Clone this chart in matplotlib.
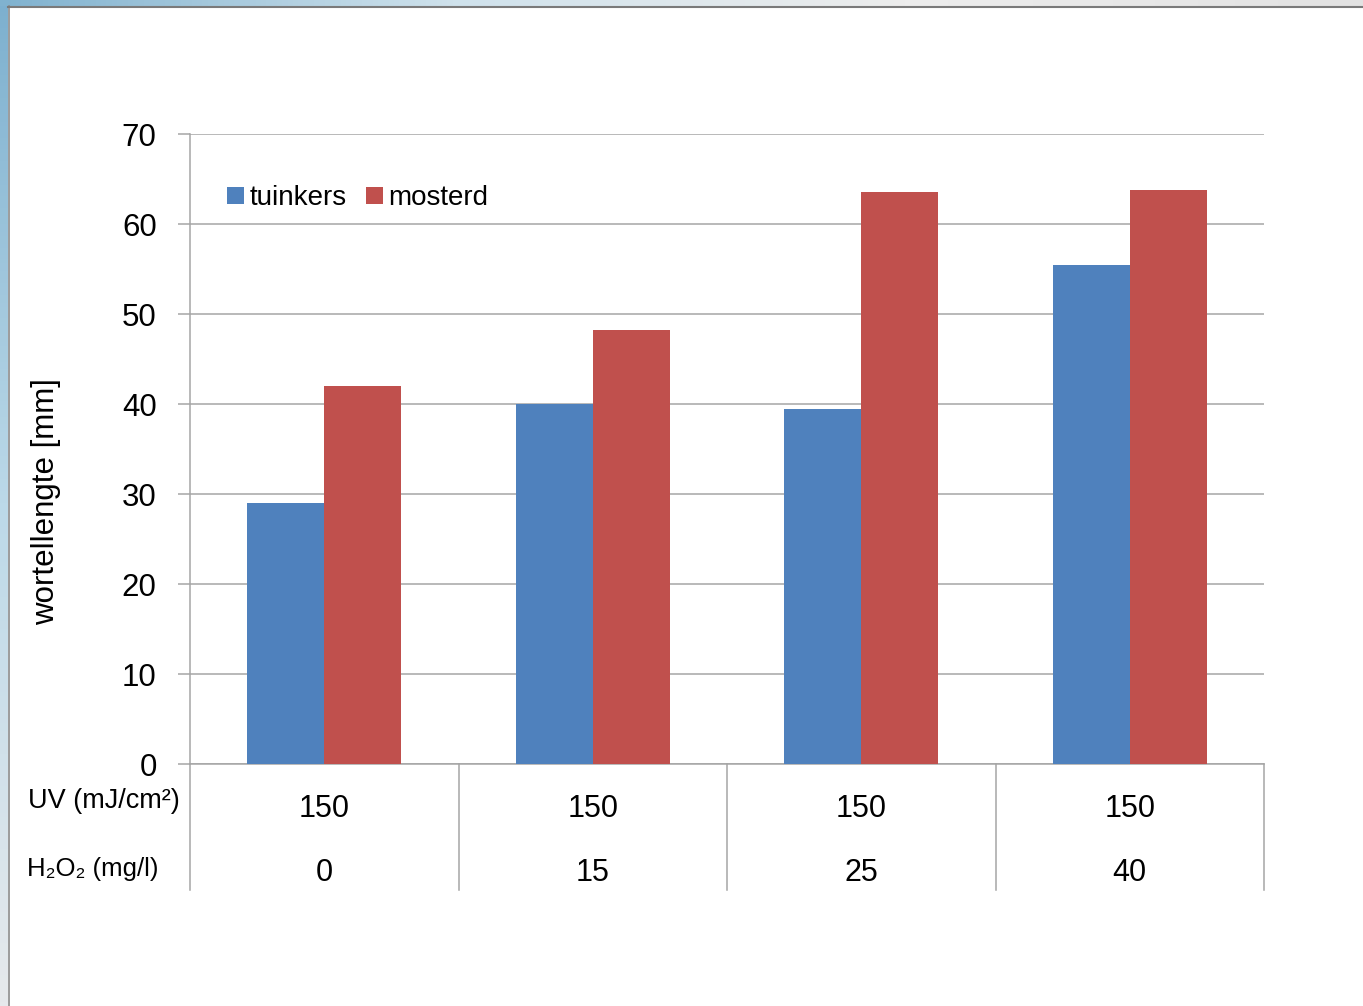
import numpy as np
import matplotlib
matplotlib.use("Agg")
import matplotlib.pyplot as plt
from matplotlib.colors import LinearSegmentedColormap

plt.rcParams['font.family'] = ['Liberation Sans', 'DejaVu Sans']

# --- data ---
uv_dose = ["150", "150", "150", "150"]
h2o2_dose = ["0", "15", "25", "40"]
tuinkers = [29.0, 40.0, 39.5, 55.5]
mosterd = [42.0, 48.2, 63.6, 63.8]
y_ticks = [0, 10, 20, 30, 40, 50, 60, 70]

blue = "#4F81BD"
red = "#C0504D"
grid_grey = "#a5a5a5"

W, H = 1363, 1006
fig = plt.figure(figsize=(W / 100, H / 100), dpi=100)
fig.patch.set_facecolor("white")

# window frame: blue gradient strips on the left and top edge
left_cm = LinearSegmentedColormap.from_list("lft", ["#7db0cf", "#bcd9e8", "#e6e9ec"])
top_cm = LinearSegmentedColormap.from_list("top", ["#80b2cf", "#cfe2ec", "#ededed", "#e2e2e2"])
ax_l = fig.add_axes([0, 0, 8 / W, 1])
ax_l.imshow(np.linspace(0, 1, 256).reshape(-1, 1), cmap=left_cm, aspect="auto")
ax_l.axis("off")
ax_t = fig.add_axes([0, 1 - 6 / H, 1, 6 / H])
ax_t.imshow(np.linspace(0, 1, 256).reshape(1, -1), cmap=top_cm, aspect="auto")
ax_t.axis("off")
fig.add_artist(plt.Line2D([8.5 / W, 8.5 / W], [0, 1 - 6 / H], color="#8a8a8a", lw=1.2))
fig.add_artist(plt.Line2D([8 / W, 1], [1 - 6.5 / H, 1 - 6.5 / H], color="#7a7a7a", lw=1.5))

# --- bar chart ---
ax = fig.add_axes([190 / W, 1 - 764 / H, (1264 - 190) / W, (764 - 134) / H])
x = np.arange(len(tuinkers))
bw = 0.287
ax.bar(x - bw / 2, tuinkers, bw, color=blue, label="tuinkers", zorder=3)
ax.bar(x + bw / 2, mosterd, bw, color=red, label="mosterd", zorder=3)

ax.set_xlim(-0.5, len(x) - 0.5)
ax.set_ylim(0, 70)
ax.set_yticks(y_ticks)
ax.set_xticks([])
ax.yaxis.grid(True, color=grid_grey, lw=1.1, zorder=0)
ax.tick_params(axis="y", length=9, width=1.1, color=grid_grey, pad=15, labelsize=22.5)
for s in ["top", "right"]:
    ax.spines[s].set_visible(False)
ax.spines["left"].set_color(grid_grey)
ax.spines["left"].set_linewidth(1.1)
ax.spines["bottom"].set_color(grid_grey)
ax.spines["bottom"].set_linewidth(1.1)

ax.set_ylabel("wortellengte [mm]", fontsize=22.5)
ax.yaxis.set_label_coords(-129 / 1074, 0.416)

# data table under the axis
for b in np.arange(len(x) + 1) - 0.5:
    ax.plot([b, b], [0, -0.2], transform=ax.get_xaxis_transform(),
            color=grid_grey, lw=1.1, clip_on=False)
for i in x:
    ax.text(i, -0.072, uv_dose[i], transform=ax.get_xaxis_transform(),
            ha="center", va="center", fontsize=22)
    ax.text(i, -0.173, h2o2_dose[i], transform=ax.get_xaxis_transform(),
            ha="center", va="center", fontsize=22)
fig.text(28 / W, 1 - 801 / H, "UV (mJ/cm²)", ha="left", va="center", fontsize=19.5)
fig.text(27 / W, 1 - 869 / H, "H₂O₂ (mg/l)", ha="left", va="center", fontsize=18.5)

ax.legend(loc="center left", bbox_to_anchor=(0.0345, 0.898), frameon=False,
          fontsize=20, handlelength=0.6, handleheight=0.6, handletextpad=0.2,
          columnspacing=0.7, borderpad=0, borderaxespad=0, ncol=2)

fig.savefig("out.png", dpi=100)
